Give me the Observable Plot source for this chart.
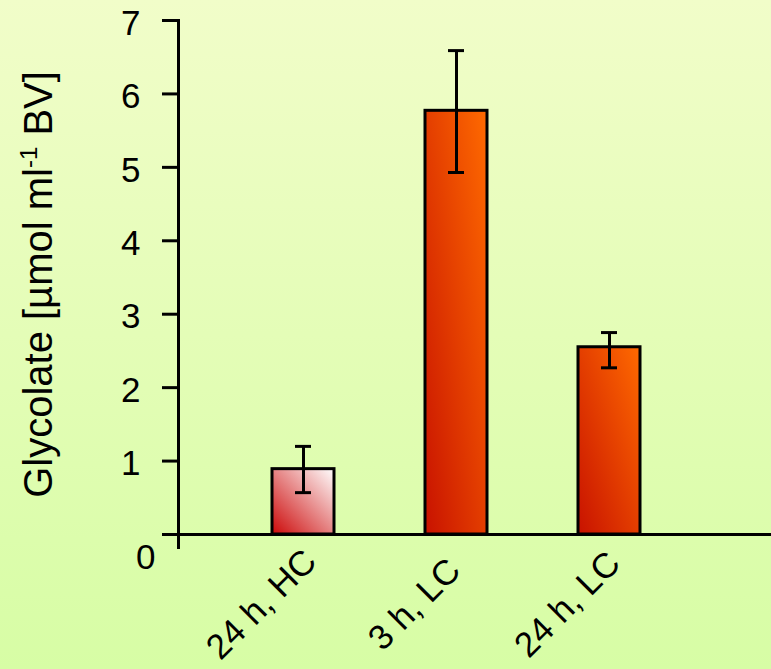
<!DOCTYPE html>
<html>
<head>
<meta charset="utf-8">
<script src="https://cdn.jsdelivr.net/npm/d3@7"></script>
<script src="https://cdn.jsdelivr.net/npm/@observablehq/plot@0.6"></script>
<style>
  html, body { margin: 0; padding: 0; width: 771px; height: 669px; overflow: hidden; }
  body { background: linear-gradient(to bottom, #f1fdc9, #d7fda5); }
  #chart svg { display: block; }
</style>
</head>
<body>
<div id="chart"></div>
<script>
const categories = ["24 h, HC", "3 h, LC", "24 h, LC"];
const values = [0.89, 5.77, 2.55];
const errorLow = [0.57, 4.93, 2.27];
const errorHigh = [1.2, 6.59, 2.75];
const yTicks = [0, 1, 2, 3, 4, 5, 6, 7];
const yLabelMain = "Glycolate [µmol ml";
const yLabelSup = "-1";
const yLabelEnd = " BV]";
const yLabel = yLabelMain + yLabelSup + yLabelEnd;

const data = categories.map((c, i) => ({cat: c, value: values[i], lo: errorLow[i], hi: errorHigh[i]}));

function gradients() {
  const ns = "http://www.w3.org/2000/svg";
  const defs = document.createElementNS(ns, "defs");
  const specs = [["gradHC", "#cc0808", "#ffffff"], ["gradLC", "#c81200", "#ff6a00"]];
  for (const [id, c0, c1] of specs) {
    const g = document.createElementNS(ns, "linearGradient");
    g.setAttribute("id", id);
    g.setAttribute("x1", "0"); g.setAttribute("y1", "1");
    g.setAttribute("x2", "1"); g.setAttribute("y2", "0");
    const s0 = document.createElementNS(ns, "stop");
    s0.setAttribute("offset", "0"); s0.setAttribute("stop-color", c0);
    const s1 = document.createElementNS(ns, "stop");
    s1.setAttribute("offset", "1"); s1.setAttribute("stop-color", c1);
    g.appendChild(s0); g.appendChild(s1);
    defs.appendChild(g);
  }
  return defs;
}

const chart = Plot.plot({
  width: 771,
  height: 669,
  marginTop: 20,
  marginBottom: 135,
  marginLeft: 178,
  marginRight: 0,
  style: {fontFamily: "'Liberation Sans', Arial, sans-serif", background: "transparent", color: "black", overflow: "visible"},
  x: {type: "band", domain: categories, paddingInner: 0.595, paddingOuter: 0.735, align: 0.418, axis: null},
  y: {domain: [0, 7]},
  marks: [
    gradients,
    Plot.barY(data, {x: "cat", y: "value", fill: d => d.cat.endsWith("HC") ? "url(#gradHC)" : "url(#gradLC)", stroke: "black", strokeWidth: 3}),
    Plot.ruleX(data, {x: "cat", y1: "lo", y2: "hi", stroke: "black", strokeWidth: 3}),
    Plot.tickY(data, {x: "cat", y: "hi", stroke: "black", strokeWidth: 3, insetLeft: 23, insetRight: 23}),
    Plot.tickY(data, {x: "cat", y: "lo", stroke: "black", strokeWidth: 3, insetLeft: 23, insetRight: 23}),
    Plot.ruleY([0], {stroke: "black", strokeWidth: 3, insetLeft: -13}),
    Plot.frame({anchor: "left", stroke: "black", strokeWidth: 3, insetBottom: -13}),
    Plot.axisY({ticks: yTicks, tickSize: 16, strokeWidth: 3, tickFormat: () => "", label: null}),
    Plot.text(yTicks.filter(d => d > 0), {y: d => d, text: d => String(d), frameAnchor: "left", dx: -38, dy: 3, textAnchor: "end", lineAnchor: "middle", fontSize: 35}),
    Plot.text([yTicks[0]], {text: d => String(d), frameAnchor: "bottom-left", dx: -23, dy: 23, textAnchor: "end", lineAnchor: "middle", fontSize: 35}),
    Plot.text(categories, {x: d => d, text: d => d, frameAnchor: "bottom", rotate: -45, dx: -42, dy: 70, textAnchor: "middle", lineAnchor: "middle", fontSize: 35}),
    Plot.text([yLabel], {text: d => d, frameAnchor: "left", rotate: -90, dx: -139, dy: 7, textAnchor: "middle", lineAnchor: "middle", fontSize: 40})
  ]
});

d3.select(chart).selectAll("text").filter(function() { return this.textContent === yLabel; }).each(function() {
  const t = d3.select(this);
  t.text(null);
  t.append("tspan").text(yLabelMain);
  t.append("tspan").attr("font-size", 24).attr("dy", -15).text(yLabelSup);
  t.append("tspan").attr("dy", 15).text(yLabelEnd);
});

document.getElementById("chart").appendChild(chart);
</script>
</body>
</html>
